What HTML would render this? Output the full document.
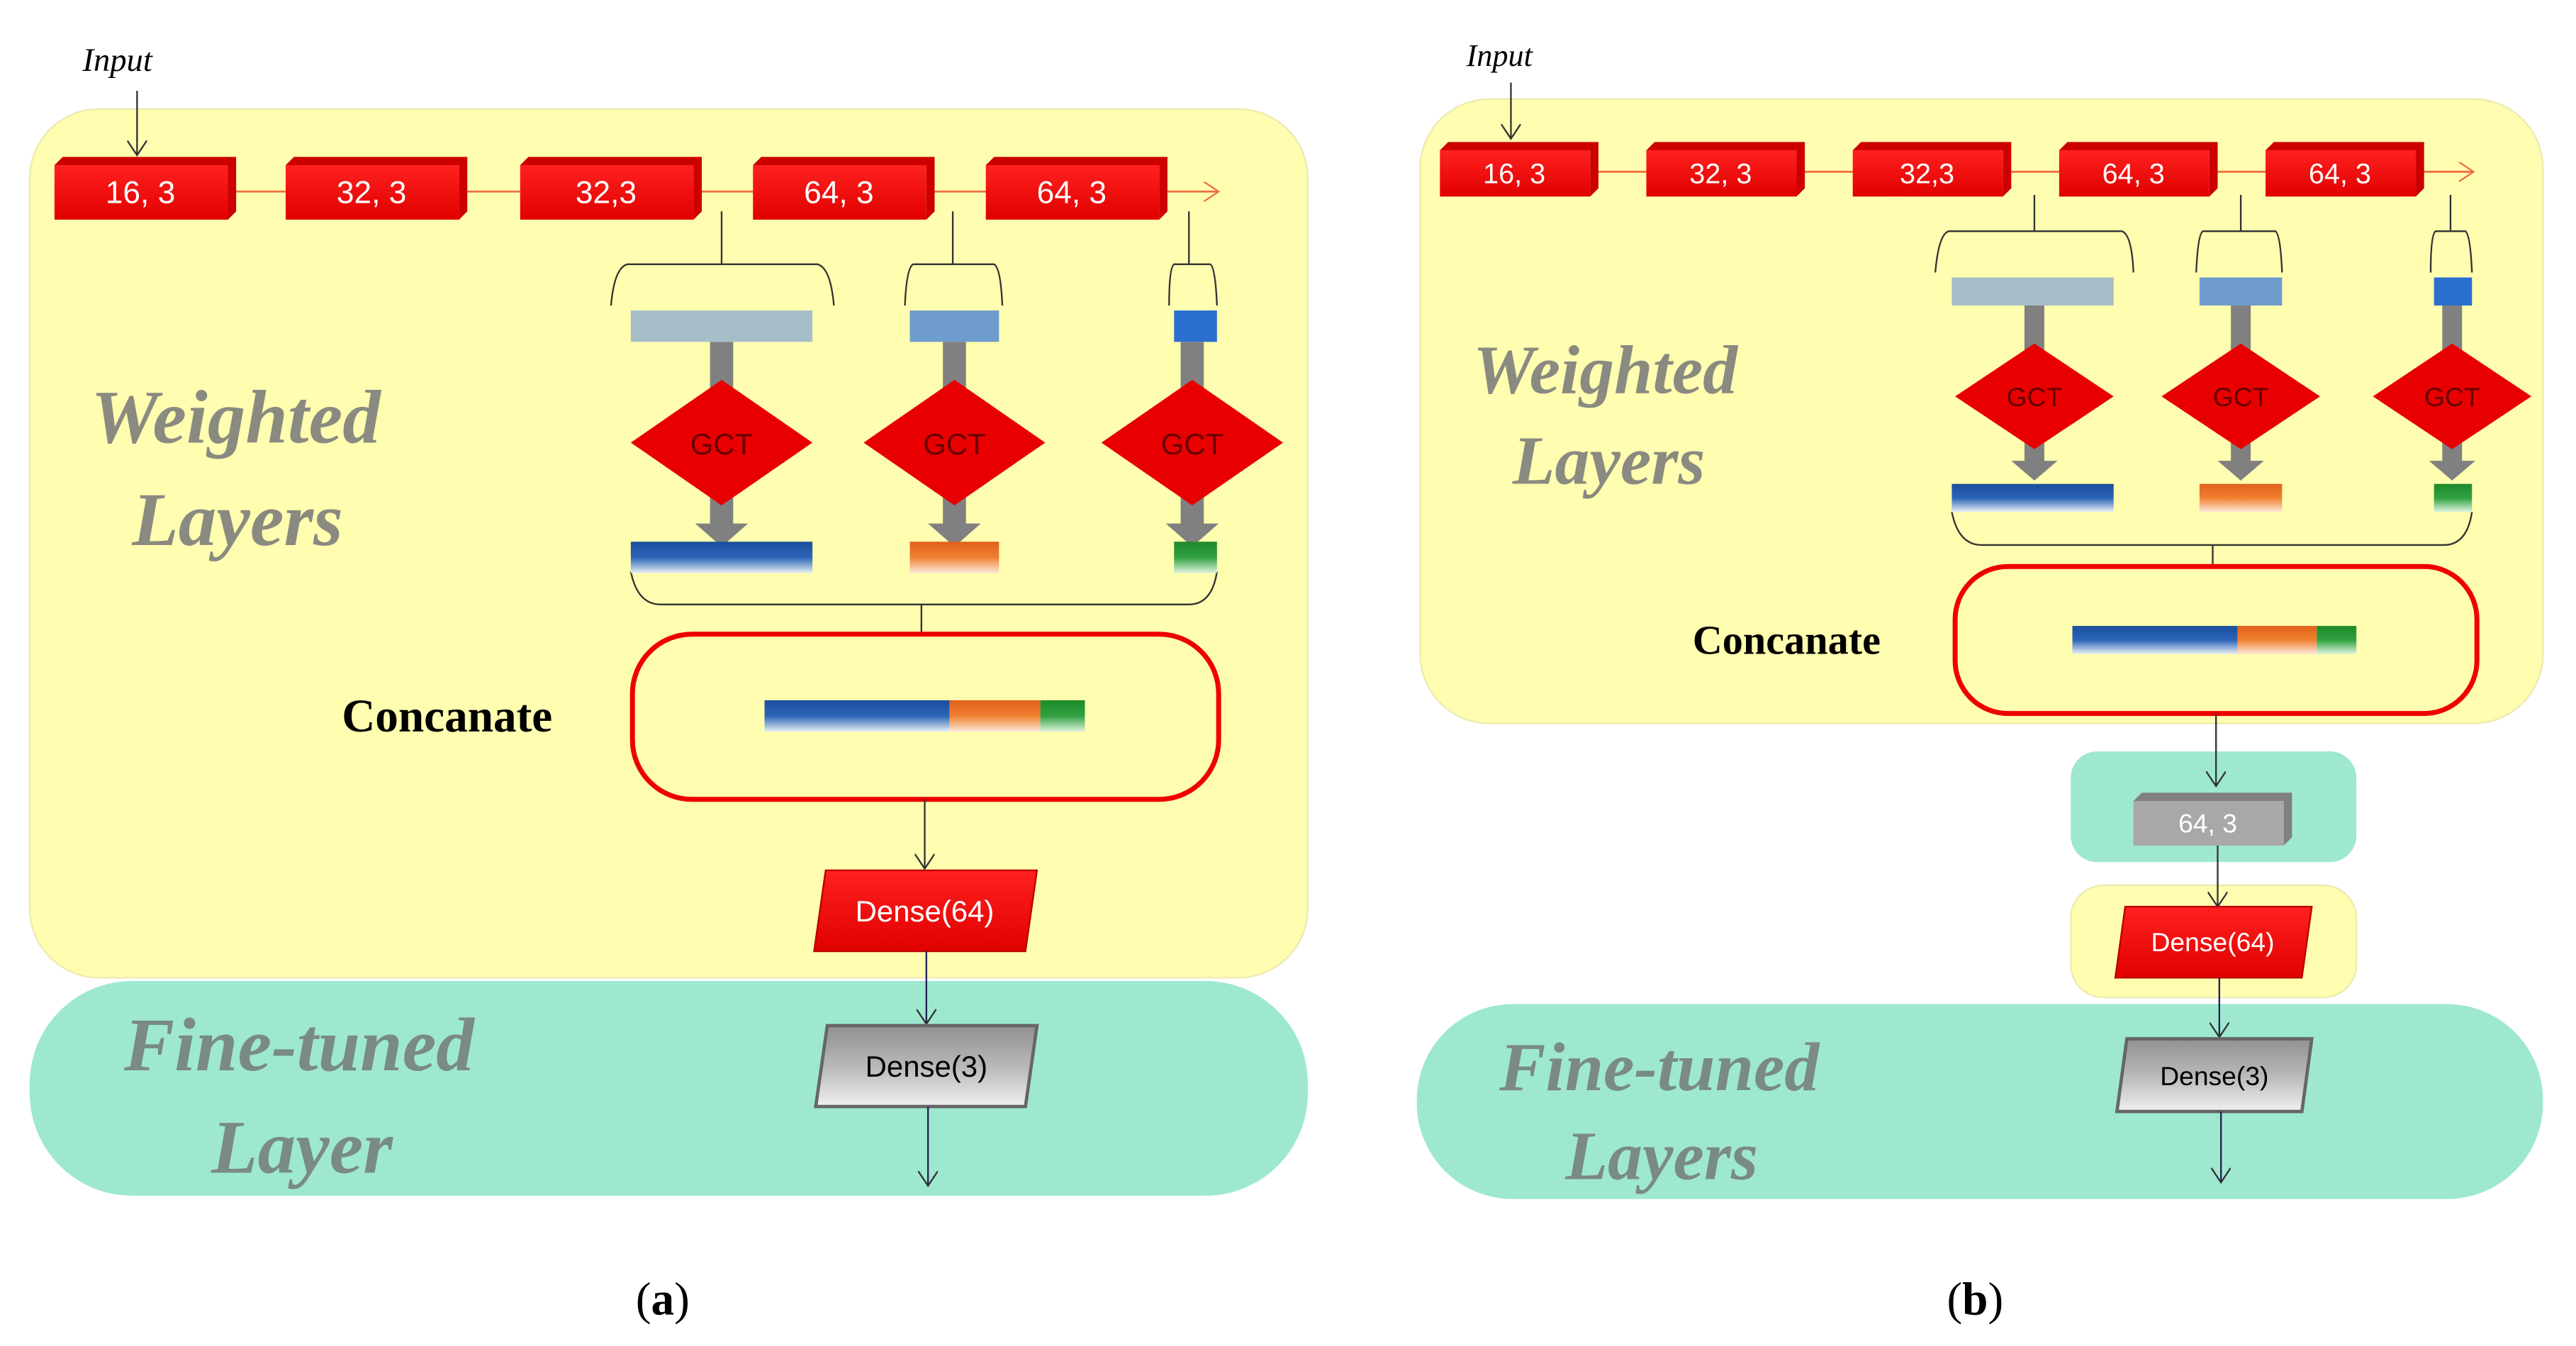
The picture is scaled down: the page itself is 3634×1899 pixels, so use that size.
<!DOCTYPE html>
<html><head><meta charset="utf-8"><style>html,body{margin:0;padding:0;background:#fff}svg{display:block}</style></head><body>
<svg width="3634" height="1899" viewBox="0 0 1560 815" preserveAspectRatio="none" xmlns="http://www.w3.org/2000/svg">
<defs>
<linearGradient id="red" x1="0" y1="0" x2="0" y2="1"><stop offset="0" stop-color="#ff2020"/><stop offset="1" stop-color="#e00000"/></linearGradient>
<linearGradient id="blu" x1="0" y1="0" x2="0" y2="1"><stop offset="0" stop-color="#1c4f9c"/><stop offset="0.5" stop-color="#2a64b8"/><stop offset="1" stop-color="#e8f0f4"/></linearGradient>
<linearGradient id="org" x1="0" y1="0" x2="0" y2="1"><stop offset="0" stop-color="#e0601a"/><stop offset="0.5" stop-color="#f08030"/><stop offset="1" stop-color="#fbe8d8"/></linearGradient>
<linearGradient id="grn" x1="0" y1="0" x2="0" y2="1"><stop offset="0" stop-color="#1e8a2a"/><stop offset="0.5" stop-color="#30a040"/><stop offset="1" stop-color="#e0f4e0"/></linearGradient>
<linearGradient id="gry" x1="0" y1="0" x2="0" y2="1"><stop offset="0" stop-color="#909090"/><stop offset="0.5" stop-color="#b8b8b8"/><stop offset="1" stop-color="#f0f0f0"/></linearGradient>
<marker id="ar" markerWidth="10" markerHeight="12" refX="9" refY="6" orient="auto" markerUnits="userSpaceOnUse"><path d="M0,0 L9,6 L0,12" fill="none" stroke="#333" stroke-width="1"/></marker>
<marker id="ao" markerWidth="10" markerHeight="12" refX="9" refY="6" orient="auto" markerUnits="userSpaceOnUse"><path d="M0,0 L9,6 L0,12" fill="none" stroke="#f07040" stroke-width="1"/></marker>
</defs>

<!-- ===== (a) ===== -->
<rect x="18" y="66" width="774" height="526" rx="42" fill="#fffdb0" stroke="#eeeab0"/>
<rect x="18" y="594" width="774" height="130" rx="62" fill="#9ee8d0"/>
<text x="50" y="43" font-family="Liberation Serif" font-style="italic" font-size="20">Input</text>
<line x1="83" y1="55" x2="83" y2="94" stroke="#333" marker-end="url(#ar)"/>
<line x1="143" y1="116" x2="738" y2="116" stroke="#f07040" stroke-width="1.2" marker-end="url(#ao)"/>
<g font-family="Liberation Sans" font-size="19" fill="#fff" text-anchor="middle">
<path d="M33,100 L38,95 L143,95 L138,100Z M138,100 L143,95 L143,128 L138,133Z" fill="#c00"/><rect x="33" y="100" width="105" height="33" fill="url(#red)"/><text x="85" y="123">16, 3</text>
<path d="M173,100 L178,95 L283,95 L278,100Z M278,100 L283,95 L283,128 L278,133Z" fill="#c00"/><rect x="173" y="100" width="105" height="33" fill="url(#red)"/><text x="225" y="123">32, 3</text>
<path d="M315,100 L320,95 L425,95 L420,100Z M420,100 L425,95 L425,128 L420,133Z" fill="#c00"/><rect x="315" y="100" width="105" height="33" fill="url(#red)"/><text x="367" y="123">32,3</text>
<path d="M456,100 L461,95 L566,95 L561,100Z M561,100 L566,95 L566,128 L561,133Z" fill="#c00"/><rect x="456" y="100" width="105" height="33" fill="url(#red)"/><text x="508" y="123">64, 3</text>
<path d="M597,100 L602,95 L707,95 L702,100Z M702,100 L707,95 L707,128 L702,133Z" fill="#c00"/><rect x="597" y="100" width="105" height="33" fill="url(#red)"/><text x="649" y="123">64, 3</text>
</g>
<g stroke="#333" fill="none" stroke-width="1">
<line x1="437" y1="128" x2="437" y2="160"/><path d="M370,185 Q372,162 380,160 L495,160 Q503,162 505,185"/>
<line x1="577" y1="128" x2="577" y2="160"/><path d="M548,185 Q549,162 553,160 L602,160 Q606,162 607,185"/>
<line x1="720" y1="128" x2="720" y2="160"/><path d="M708,185 Q708,162 711,160 L733,160 Q736,162 737,185"/>
<path d="M382,346 Q386,366 400,366 L720,366 Q734,366 737,346"/><line x1="558" y1="366" x2="558" y2="384"/>
</g>
<rect x="382" y="188" width="110" height="19" fill="#a6bec8"/>
<rect x="551" y="188" width="54" height="19" fill="#6e9ccc"/>
<rect x="711" y="188" width="26" height="19" fill="#2a6fd0"/>
<g fill="#808080">
<path d="M430,207 h14 v110 h9 l-16,14 l-16,-14 h9z"/>
<path d="M571,207 h14 v110 h9 l-16,14 l-16,-14 h9z"/>
<path d="M715,207 h14 v110 h9 l-16,14 l-16,-14 h9z"/>
</g>
<g font-family="Liberation Sans" font-size="18" fill="#600" text-anchor="middle">
<path d="M437,230 L492,268 L437,306 L382,268Z" fill="#e80000"/><text x="437" y="275">GCT</text>
<path d="M578,230 L633,268 L578,306 L523,268Z" fill="#e80000"/><text x="578" y="275">GCT</text>
<path d="M722,230 L777,268 L722,306 L667,268Z" fill="#e80000"/><text x="722" y="275">GCT</text>
</g>
<rect x="382" y="328" width="110" height="19" fill="url(#blu)"/>
<rect x="551" y="328" width="54" height="19" fill="url(#org)"/>
<rect x="711" y="328" width="26" height="19" fill="url(#grn)"/>
<rect x="383" y="384" width="355" height="100" rx="36" fill="none" stroke="#e00" stroke-width="3"/>
<text x="207" y="443" font-family="Liberation Serif" font-weight="bold" font-size="28">Concanate</text>
<rect x="463" y="424" width="112" height="19" fill="url(#blu)"/><rect x="575" y="424" width="55" height="19" fill="url(#org)"/><rect x="630" y="424" width="27" height="19" fill="url(#grn)"/>
<line x1="560" y1="484" x2="560" y2="526" stroke="#333" marker-end="url(#ar)"/>
<path d="M500,527 L628,527 L621,576 L493,576Z" fill="url(#red)" stroke="#b00"/>
<text x="560" y="558" font-family="Liberation Sans" font-size="18" fill="#fff" text-anchor="middle">Dense(64)</text>
<line x1="561" y1="576" x2="561" y2="620" stroke="#225" marker-end="url(#ar)"/>
<path d="M501,621 L628,621 L621,670 L494,670Z" fill="url(#gry)" stroke="#666" stroke-width="2"/>
<text x="561" y="652" font-family="Liberation Sans" font-size="18" fill="#000" text-anchor="middle">Dense(3)</text>
<line x1="562" y1="670" x2="562" y2="718" stroke="#225" marker-end="url(#ar)"/>
<g font-family="Liberation Serif" font-weight="bold" font-style="italic" fill="#8a8a80">
<text x="55" y="268" font-size="46">Weighted</text><text x="80" y="330" font-size="46">Layers</text>
<text x="75" y="648" font-size="46" fill="#7a8a84">Fine-tuned</text><text x="128" y="710" font-size="46" fill="#7a8a84">Layer</text>
</g>
<text x="385" y="796" font-family="Liberation Serif" font-size="28">(<tspan font-weight="bold">a</tspan>)</text>

<!-- ===== (b) ===== -->
<rect x="860" y="60" width="680" height="378" rx="42" fill="#fffdb0" stroke="#eeeab0"/>
<rect x="858" y="608" width="682" height="118" rx="58" fill="#9ee8d0"/>
<rect x="1254" y="455" width="173" height="67" rx="16" fill="#9ee8d0"/>
<rect x="1254" y="536" width="173" height="68" rx="20" fill="#fffdb0" stroke="#eeeab0"/>
<text x="888" y="40" font-family="Liberation Serif" font-style="italic" font-size="19">Input</text>
<line x1="915" y1="50" x2="915" y2="84" stroke="#333" marker-end="url(#ar)"/>
<line x1="968" y1="104" x2="1498" y2="104" stroke="#f07040" stroke-width="1.2" marker-end="url(#ao)"/>
<g font-family="Liberation Sans" font-size="17" fill="#fff" text-anchor="middle">
<path d="M872,91 L877,86 L968,86 L963,91Z M963,91 L968,86 L968,114 L963,119Z" fill="#c00"/><rect x="872" y="91" width="91" height="28" fill="url(#red)"/><text x="917" y="111">16, 3</text>
<path d="M997,91 L1002,86 L1093,86 L1088,91Z M1088,91 L1093,86 L1093,114 L1088,119Z" fill="#c00"/><rect x="997" y="91" width="91" height="28" fill="url(#red)"/><text x="1042" y="111">32, 3</text>
<path d="M1122,91 L1127,86 L1218,86 L1213,91Z M1213,91 L1218,86 L1218,114 L1213,119Z" fill="#c00"/><rect x="1122" y="91" width="91" height="28" fill="url(#red)"/><text x="1167" y="111">32,3</text>
<path d="M1247,91 L1252,86 L1343,86 L1338,91Z M1338,91 L1343,86 L1343,114 L1338,119Z" fill="#c00"/><rect x="1247" y="91" width="91" height="28" fill="url(#red)"/><text x="1292" y="111">64, 3</text>
<path d="M1372,91 L1377,86 L1468,86 L1463,91Z M1463,91 L1468,86 L1468,114 L1463,119Z" fill="#c00"/><rect x="1372" y="91" width="91" height="28" fill="url(#red)"/><text x="1417" y="111">64, 3</text>
</g>
<g stroke="#333" fill="none" stroke-width="1">
<line x1="1232" y1="118" x2="1232" y2="140"/><path d="M1172,165 Q1174,142 1180,140 L1285,140 Q1291,142 1292,165"/>
<line x1="1357" y1="118" x2="1357" y2="140"/><path d="M1330,165 Q1331,142 1334,140 L1378,140 Q1381,142 1382,165"/>
<line x1="1484" y1="118" x2="1484" y2="140"/><path d="M1472,165 Q1472,142 1475,140 L1493,140 Q1496,142 1497,165"/>
<path d="M1182,310 Q1186,330 1200,330 L1480,330 Q1494,330 1497,310"/><line x1="1340" y1="330" x2="1340" y2="342"/>
</g>
<rect x="1182" y="168" width="98" height="17" fill="#a6bec8"/>
<rect x="1332" y="168" width="50" height="17" fill="#6e9ccc"/>
<rect x="1474" y="168" width="23" height="17" fill="#2a6fd0"/>
<g fill="#808080">
<path d="M1226,185 h12 v94 h8 l-14,12 l-14,-12 h8z"/>
<path d="M1351,185 h12 v94 h8 l-14,12 l-14,-12 h8z"/>
<path d="M1479,185 h12 v94 h8 l-14,12 l-14,-12 h8z"/>
</g>
<g font-family="Liberation Sans" font-size="16" fill="#600" text-anchor="middle">
<path d="M1232,208 L1280,240 L1232,272 L1184,240Z" fill="#e80000"/><text x="1232" y="246">GCT</text>
<path d="M1357,208 L1405,240 L1357,272 L1309,240Z" fill="#e80000"/><text x="1357" y="246">GCT</text>
<path d="M1485,208 L1533,240 L1485,272 L1437,240Z" fill="#e80000"/><text x="1485" y="246">GCT</text>
</g>
<rect x="1182" y="293" width="98" height="17" fill="url(#blu)"/>
<rect x="1332" y="293" width="50" height="17" fill="url(#org)"/>
<rect x="1474" y="293" width="23" height="17" fill="url(#grn)"/>
<rect x="1184" y="343" width="316" height="89" rx="32" fill="none" stroke="#e00" stroke-width="3"/>
<text x="1025" y="396" font-family="Liberation Serif" font-weight="bold" font-size="25">Concanate</text>
<rect x="1255" y="379" width="100" height="17" fill="url(#blu)"/><rect x="1355" y="379" width="48" height="17" fill="url(#org)"/><rect x="1403" y="379" width="24" height="17" fill="url(#grn)"/>
<line x1="1342" y1="432" x2="1342" y2="476" stroke="#333" marker-end="url(#ar)"/>
<path d="M1292,485 L1297,480 L1388,480 L1383,485Z M1383,485 L1388,480 L1388,507 L1383,512Z" fill="#808080"/>
<rect x="1292" y="485" width="91" height="27" fill="#a8a8a8"/>
<text x="1337" y="504" font-family="Liberation Sans" font-size="16" fill="#fff" text-anchor="middle">64, 3</text>
<line x1="1343" y1="512" x2="1343" y2="549" stroke="#333" marker-end="url(#ar)"/>
<path d="M1287,549 L1400,549 L1394,592 L1281,592Z" fill="url(#red)" stroke="#b00"/>
<text x="1340" y="576" font-family="Liberation Sans" font-size="16" fill="#fff" text-anchor="middle">Dense(64)</text>
<line x1="1344" y1="592" x2="1344" y2="628" stroke="#225" marker-end="url(#ar)"/>
<path d="M1288,629 L1400,629 L1394,673 L1282,673Z" fill="url(#gry)" stroke="#666" stroke-width="2"/>
<text x="1341" y="657" font-family="Liberation Sans" font-size="16" fill="#000" text-anchor="middle">Dense(3)</text>
<line x1="1345" y1="673" x2="1345" y2="716" stroke="#225" marker-end="url(#ar)"/>
<g font-family="Liberation Serif" font-weight="bold" font-style="italic" fill="#8a8a80">
<text x="892" y="238" font-size="42">Weighted</text><text x="916" y="293" font-size="42">Layers</text>
<text x="908" y="660" font-size="42" fill="#7a8a84">Fine-tuned</text><text x="948" y="714" font-size="42" fill="#7a8a84">Layers</text>
</g>
<text x="1179" y="796" font-family="Liberation Serif" font-size="28">(<tspan font-weight="bold">b</tspan>)</text>
</svg>
</body></html>
